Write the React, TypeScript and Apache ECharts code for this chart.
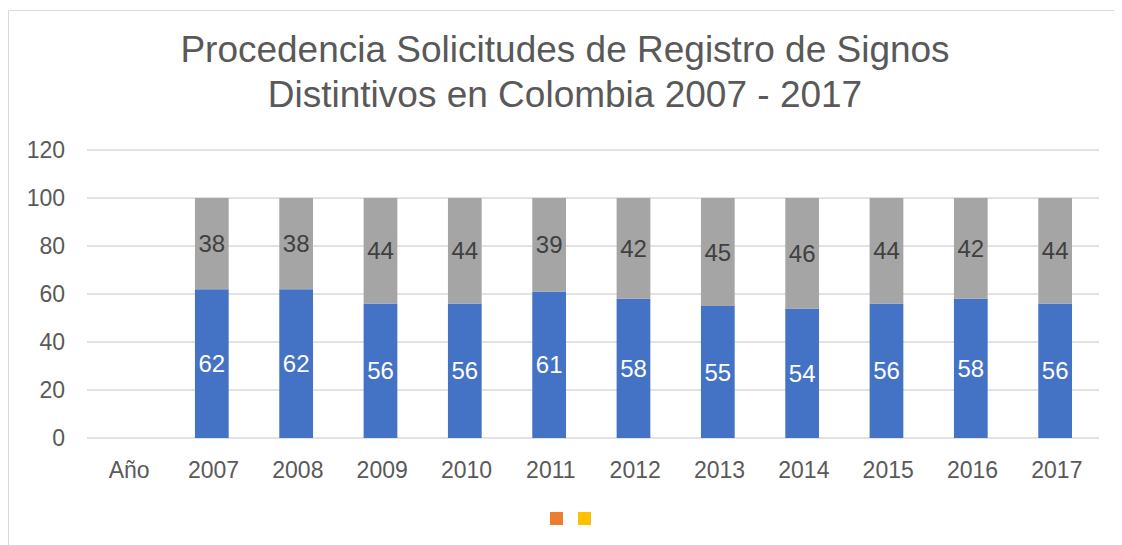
import React, { useEffect, useRef } from "react";
import * as echarts from "echarts";

const categories = ["Año", "2007", "2008", "2009", "2010", "2011", "2012", "2013", "2014", "2015", "2016", "2017"];
const blueValues: (number | string)[] = ["-", 62, 62, 56, 56, 61, 58, 55, 54, 56, 58, 56];
const grayValues: (number | string)[] = ["-", 38, 38, 44, 44, 39, 42, 45, 46, 44, 42, 44];
const yTicks = { min: 0, max: 120, interval: 20 };
const titleLines = ["Procedencia Solicitudes de Registro de Signos", "Distintivos en Colombia 2007 - 2017"];
const legendNames = ["Serie 3", "Serie 4"];

export default function App() {
  const ref = useRef<HTMLDivElement>(null);
  useEffect(() => {
    if (!ref.current) return;
    const chart = echarts.init(ref.current, undefined, { renderer: "svg" });
    const font = "Liberation Sans, Arial, sans-serif";
    chart.setOption({
      animation: false,
      textStyle: { fontFamily: font },
      graphic: [
        {
          type: "rect",
          shape: { x: 0.5, y: 2.5, width: 1300, height: 700 },
          style: { fill: "none", stroke: "#d9d9d9", lineWidth: 1 },
          silent: true,
        },
      ],
      title: {
        text: titleLines.join("\n"),
        left: "center",
        top: 14,
        textStyle: {
          fontFamily: font,
          fontSize: 37,
          fontWeight: "normal",
          color: "#595959",
          lineHeight: 45,
          align: "center",
        },
      },
      legend: {
        data: legendNames,
        left: 537,
        top: 499,
        itemWidth: 13,
        itemHeight: 13,
        itemGap: 15,
        icon: "rect",
        formatter: () => "",
        selectedMode: false,
      },
      grid: { left: 79, right: 23, top: 142, bottom: 107, containLabel: false },
      xAxis: {
        type: "category",
        data: categories,
        axisLine: { show: false },
        axisTick: { show: false },
        axisLabel: { color: "#595959", fontSize: 23, margin: 20, fontFamily: font },
      },
      yAxis: {
        type: "value",
        min: yTicks.min,
        max: yTicks.max,
        interval: yTicks.interval,
        axisLine: { show: false },
        axisTick: { show: false },
        splitLine: { lineStyle: { color: "#d9d9d9", width: 1.5 } },
        axisLabel: { color: "#595959", fontSize: 23, margin: 22, fontFamily: font },
      },
      series: [
        {
          name: "Serie 1",
          type: "bar",
          stack: "total",
          data: blueValues,
          barWidth: "40%",
          itemStyle: { color: "#4472C4" },
          label: { show: true, position: "inside", color: "#ffffff", fontSize: 24, fontFamily: font },
        },
        {
          name: "Serie 2",
          type: "bar",
          stack: "total",
          data: grayValues,
          barWidth: "40%",
          itemStyle: { color: "#A5A5A5" },
          label: { show: true, position: "inside", color: "#404040", fontSize: 24, fontFamily: font },
        },
        {
          name: legendNames[0],
          type: "bar",
          data: [],
          itemStyle: { color: "#ED7D31" },
        },
        {
          name: legendNames[1],
          type: "bar",
          data: [],
          itemStyle: { color: "#FFC000" },
        },
      ],
    });
    return () => chart.dispose();
  }, []);
  return <div ref={ref} style={{ width: 1114, height: 537 }} />;
}
